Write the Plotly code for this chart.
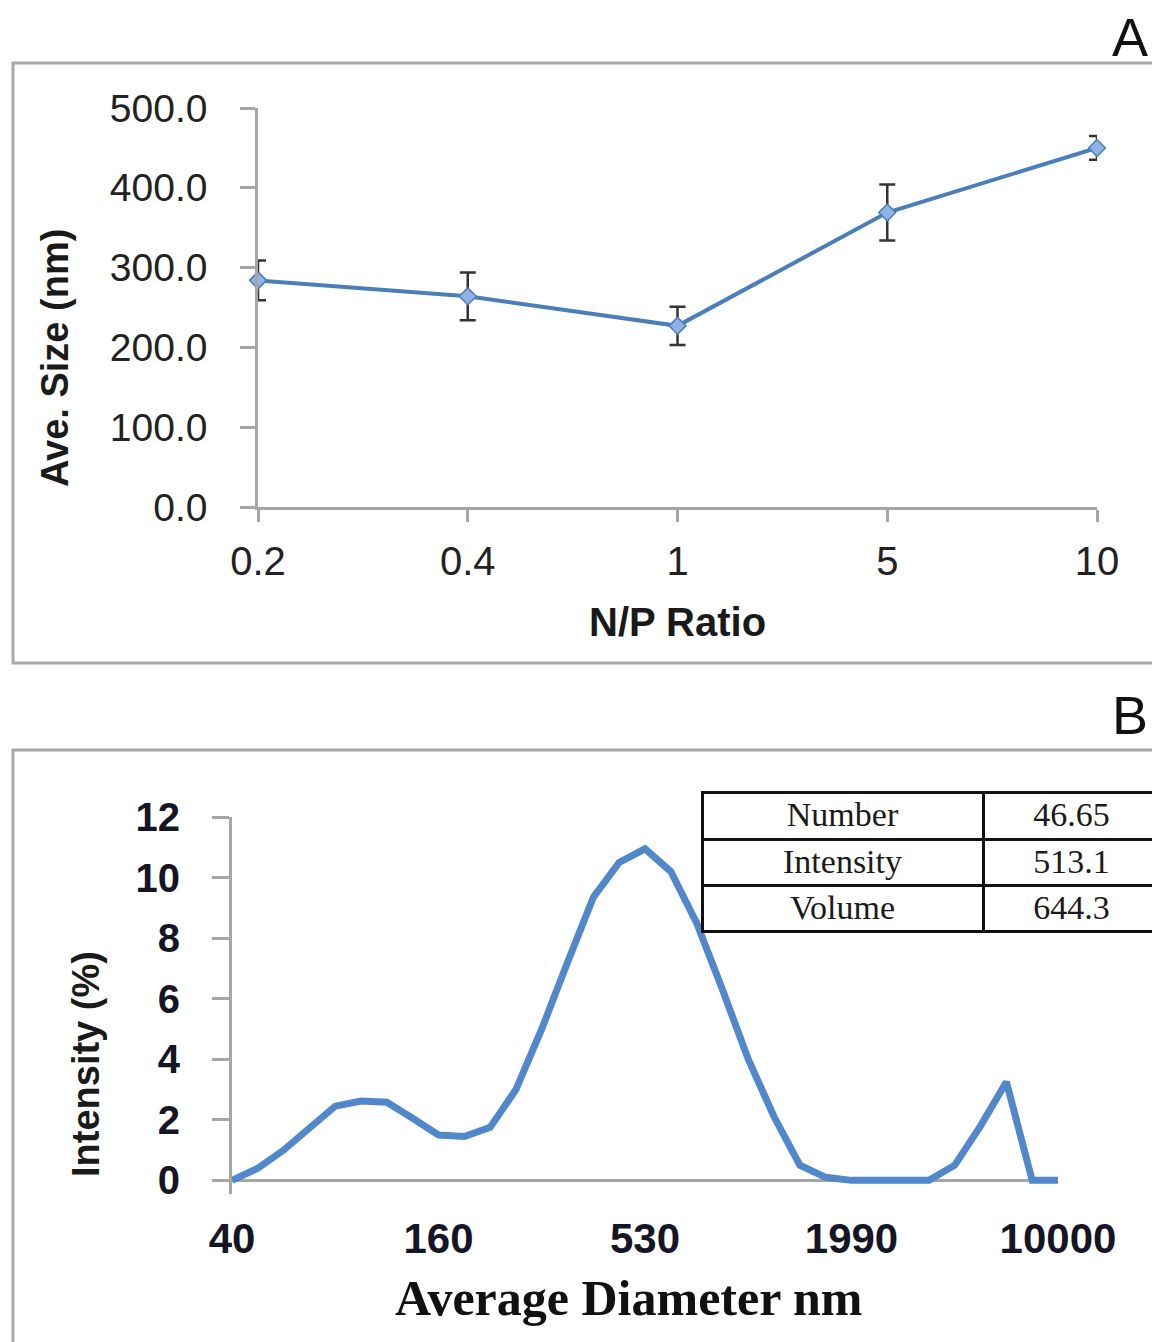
import plotly.graph_objects as go

# the page adds an 8px body margin; the figure is drawn in the remaining area
OFF = 8
W, H = 1160 - OFF, 1342 - OFF

# ---------------- data ----------------
# Panel A
np_ratio_labels = ["0.2", "0.4", "1", "5", "10"]
ave_size = [284, 264, 227, 369, 450]
ave_size_err = [25, 30, 24, 35, 15]
size_ticks = [0, 100, 200, 300, 400, 500]

# Panel B
diameter_tick_labels = ["40", "160", "530", "1990", "10000"]
intensity_pct = [0.0, 0.4, 1.0, 1.7, 2.45, 2.62, 2.58, 2.05, 1.5, 1.45, 1.75,
                 3.0, 5.0, 7.2, 9.35, 10.5, 10.95, 10.2, 8.5, 6.3, 4.0, 2.1,
                 0.5, 0.1, 0.0, 0.0, 0.0, 0.0, 0.5, 1.8, 3.25, 0.0, 0.0]
intensity_ticks = [0, 2, 4, 6, 8, 10, 12]

table_labels = ["Number", "Intensity", "Volume"]
table_values = ["46.65", "513.1", "644.3"]

# ---------------- helpers (reference-image pixels -> paper) ----------------
def px(x):
    return (x - OFF) / W

def py(y):
    return 1 - (y - OFF) / H

n_pts = len(intensity_pct)
label_step = (n_pts - 1) // (len(diameter_tick_labels) - 1)
diam_tickvals = [i * label_step for i in range(len(diameter_tick_labels))]

AXC = "#a6a6a6"
SANS = "Liberation Sans, Arial, sans-serif"
SERIF = "Liberation Serif, Times New Roman, serif"

fig = go.Figure()

# Panel A line with error bars
fig.add_trace(go.Scatter(
    x=list(range(len(np_ratio_labels))), y=ave_size,
    mode="lines+markers",
    line=dict(color="#4a7ebb", width=4),
    marker=dict(symbol="diamond", size=13, color="#8fb4e3",
                line=dict(color="#4a7ebb", width=1.5)),
    error_y=dict(type="data", array=ave_size_err, visible=True,
                 color="#333333", thickness=2.5, width=8),
    cliponaxis=False, showlegend=False,
    xaxis="x", yaxis="y",
))

# Panel B intensity distribution
fig.add_trace(go.Scatter(
    x=list(range(n_pts)), y=intensity_pct,
    mode="lines",
    line=dict(color="#5088cb", width=7),
    cliponaxis=False, showlegend=False,
    xaxis="x2", yaxis="y2",
))

# Table in panel B
fig.add_trace(go.Table(
    domain=dict(x=[px(702), px(1160)], y=[py(940), py(792)]),
    columnwidth=[281, 177],
    header=dict(values=[table_labels[0], table_values[0]],
                align="center", height=47,
                line=dict(color="#111111", width=3),
                fill=dict(color="white"),
                font=dict(family=SERIF, size=34, color="#1a1a1a")),
    cells=dict(values=[table_labels[1:], table_values[1:]],
               align="center", height=46,
               line=dict(color="#111111", width=3),
               fill=dict(color="white"),
               font=dict(family=SERIF, size=34, color="#1a1a1a")),
))

fig.update_layout(
    width=W, height=H,
    margin=dict(l=0, r=0, t=0, b=0),
    paper_bgcolor="white", plot_bgcolor="white",
    xaxis=dict(
        domain=[px(258), px(1097)], anchor="y", automargin=False,
        range=[0, len(np_ratio_labels) - 1],
        tickvals=list(range(len(np_ratio_labels))), ticktext=np_ratio_labels,
        showline=True, linecolor=AXC, linewidth=2.5,
        ticks="outside", ticklen=12, tickwidth=2.5, tickcolor=AXC,
        ticklabelstandoff=5,
        showgrid=False, zeroline=False,
        tickfont=dict(family=SANS, size=40, color="#222222"),
    ),
    yaxis=dict(
        domain=[py(507), py(108)], anchor="x", automargin=False,
        range=[0, 500],
        tickvals=size_ticks, tickformat=".1f",
        showline=True, linecolor=AXC, linewidth=2.5,
        ticks="outside", ticklen=15, tickwidth=2.5, tickcolor=AXC,
        ticklabelstandoff=25,
        showgrid=False, zeroline=False,
        tickfont=dict(family=SANS, size=39, color="#222222"),
    ),
    xaxis2=dict(
        domain=[px(232), px(1058)], anchor="y2", automargin=False,
        range=[0, n_pts - 1],
        tickvals=diam_tickvals,
        ticktext=[f"<b>{t}</b>" for t in diameter_tick_labels],
        showline=False, ticks="", ticklabelstandoff=16,
        showgrid=False, zeroline=False,
        tickfont=dict(family=SANS, size=42, color="#151525"),
    ),
    yaxis2=dict(
        domain=[py(1194), py(817)], anchor="x2", automargin=False,
        range=[-0.45, 12],
        tickvals=intensity_ticks,
        ticktext=[f"<b>{t}</b>" for t in intensity_ticks],
        showline=True, linecolor=AXC, linewidth=3,
        ticks="outside", ticklen=17, tickwidth=3, tickcolor=AXC,
        ticklabelstandoff=24,
        showgrid=False,
        zeroline=True, zerolinecolor=AXC, zerolinewidth=3,
        tickfont=dict(family=SANS, size=40, color="#151525"),
    ),
)

# Panel frames
frame = dict(type="rect", xref="paper", yref="paper",
             line=dict(color="#a8a8a8", width=3), fillcolor="rgba(0,0,0,0)",
             layer="below")
fig.add_shape(**frame, x0=px(13), x1=px(1185), y0=py(663), y1=py(63))
fig.add_shape(**frame, x0=px(13), x1=px(1185), y0=py(1370), y1=py(750))

# Titles and panel letters
ann = [
    dict(text="<b>Ave. Size (nm)</b>", x=px(55), y=py(358), textangle=-90,
         font=dict(family=SANS, size=38, color="#1a1a1a")),
    dict(text="<b>N/P Ratio</b>", x=px(677), y=py(622),
         font=dict(family=SANS, size=40, color="#1a1a1a")),
    dict(text="<b>Intensity (%)</b>", x=px(86), y=py(1064), textangle=-90,
         font=dict(family=SANS, size=38, color="#1a1a1a")),
    dict(text="<b>Average Diameter nm</b>", x=px(628), y=py(1298),
         font=dict(family=SERIF, size=50, color="#111111")),
    dict(text="A", x=px(1130), y=py(37),
         font=dict(family=SANS, size=54, color="#111111")),
    dict(text="B", x=px(1130), y=py(715),
         font=dict(family=SANS, size=54, color="#111111")),
]
for a in ann:
    fig.add_annotation(xref="paper", yref="paper", showarrow=False,
                       xanchor="center", yanchor="middle", **a)

fig.write_html("out.html")
